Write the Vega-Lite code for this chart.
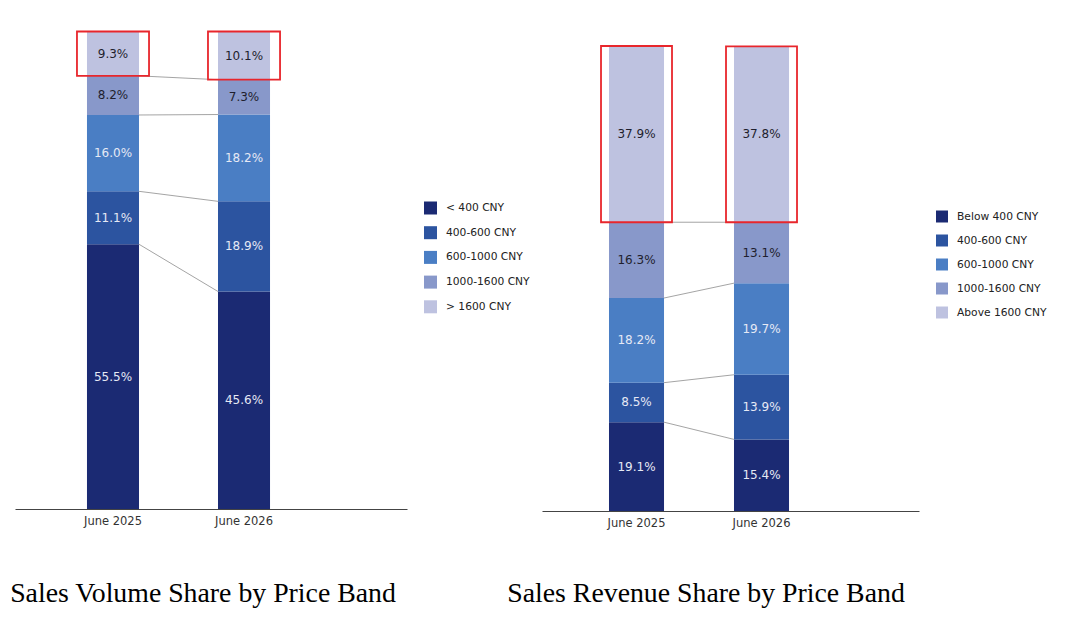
{
  "$schema": "https://vega.github.io/schema/vega-lite/v6.json",
  "padding": {"left": 9, "top": 30, "right": 0, "bottom": 0},
  "background": "white",
  "datasets": {
    "volume": [
      {"period": "June 2025", "band": "< 400 CNY", "rank": 1, "value": 0.555},
      {"period": "June 2025", "band": "400-600 CNY", "rank": 2, "value": 0.111},
      {"period": "June 2025", "band": "600-1000 CNY", "rank": 3, "value": 0.160},
      {"period": "June 2025", "band": "1000-1600 CNY", "rank": 4, "value": 0.082},
      {"period": "June 2025", "band": "> 1600 CNY", "rank": 5, "value": 0.093},
      {"period": "June 2026", "band": "< 400 CNY", "rank": 1, "value": 0.456},
      {"period": "June 2026", "band": "400-600 CNY", "rank": 2, "value": 0.189},
      {"period": "June 2026", "band": "600-1000 CNY", "rank": 3, "value": 0.182},
      {"period": "June 2026", "band": "1000-1600 CNY", "rank": 4, "value": 0.073},
      {"period": "June 2026", "band": "> 1600 CNY", "rank": 5, "value": 0.101}
    ],
    "revenue": [
      {"period": "June 2025", "band": "Below 400 CNY", "rank": 1, "value": 0.191},
      {"period": "June 2025", "band": "400-600 CNY", "rank": 2, "value": 0.085},
      {"period": "June 2025", "band": "600-1000 CNY", "rank": 3, "value": 0.182},
      {"period": "June 2025", "band": "1000-1600 CNY", "rank": 4, "value": 0.163},
      {"period": "June 2025", "band": "Above 1600 CNY", "rank": 5, "value": 0.379},
      {"period": "June 2026", "band": "Below 400 CNY", "rank": 1, "value": 0.154},
      {"period": "June 2026", "band": "400-600 CNY", "rank": 2, "value": 0.139},
      {"period": "June 2026", "band": "600-1000 CNY", "rank": 3, "value": 0.197},
      {"period": "June 2026", "band": "1000-1600 CNY", "rank": 4, "value": 0.131},
      {"period": "June 2026", "band": "Above 1600 CNY", "rank": 5, "value": 0.378}
    ]
  },
  "hconcat": [
    {
      "width": 392,
      "height": 477,
      "data": {"name": "volume"},
      "transform": [
        {"stack": "value", "groupby": ["period"], "sort": [{"field": "rank", "order": "ascending"}], "as": ["c0", "c1"]}
      ],
      "title": {"text": "Sales Volume Share by Price Band", "orient": "bottom", "anchor": "middle", "dx": -8, "offset": 53, "font": "Liberation Serif", "fontSize": 27.8, "fontWeight": "normal", "color": "#000000"},
      "layer": [
        {
          "mark": {"type": "bar", "width": {"band": 0.722}},
          "encoding": {
            "x": {"field": "period", "type": "nominal", "title": null,
                  "scale": {"paddingInner": 0.45, "paddingOuter": 0.721, "align": 0.328},
                  "axis": {"labelAngle": 0, "labelAlign": "center", "labelBaseline": "top", "ticks": false, "bandPosition": 0.5, "labelPadding": 6, "domainColor": "#444444", "domainWidth": 1.1, "labelFontSize": 11.5, "labelColor": "#333333", "labelFont": "DejaVu Sans", "grid": false}},
            "y": {"field": "c0", "type": "quantitative", "scale": {"domain": [0, 1], "nice": false}, "axis": null},
            "y2": {"field": "c1"},
            "color": {"field": "band", "type": "nominal",
                      "scale": {"domain": ["< 400 CNY", "400-600 CNY", "600-1000 CNY", "1000-1600 CNY", "> 1600 CNY"], "range": ["#1b2a73", "#2c54a0", "#4a7ec4", "#8898ca", "#bec2e0"]},
                      "legend": {"title": null, "orient": "none", "legendX": 409, "legendY": 169.5, "symbolType": "square", "symbolSize": 169, "symbolStrokeWidth": 0, "labelFontSize": 10.7, "labelFont": "DejaVu Sans", "labelColor": "#222222", "rowPadding": 11.7, "labelOffset": 9}}
          }
        },
        {
          "transform": [
            {"filter": "datum.rank < 5"},
            {"window": [{"op": "lead", "field": "c1", "as": "c1n"}, {"op": "lead", "field": "period", "as": "pn"}], "groupby": ["band"], "sort": [{"field": "period", "order": "ascending"}]},
            {"filter": "datum.period == 'June 2025'"}
          ],
          "mark": {"type": "rule", "color": "#9a9a9a", "strokeWidth": 0.9},
          "encoding": {
            "x": {"field": "period", "type": "nominal", "bandPosition": 0.861, "title": null,
                  "axis": {"labelAngle": 0, "labelAlign": "center", "labelBaseline": "top", "ticks": false, "bandPosition": 0.5, "labelPadding": 6, "domainColor": "#444444", "domainWidth": 1.1, "labelFontSize": 11.5, "labelColor": "#333333", "labelFont": "DejaVu Sans", "grid": false}},
            "x2": {"field": "pn", "bandPosition": 0.139},
            "y": {"field": "c1", "type": "quantitative", "axis": null},
            "y2": {"field": "c1n"}
          }
        },
        {
          "transform": [
            {"fold": ["c0", "c1"], "as": ["edge", "pos"]}
          ],
          "mark": {"type": "text", "font": "DejaVu Sans", "fontSize": 12, "baseline": "middle"},
          "encoding": {
            "x": {"field": "period", "type": "nominal", "title": null,
                  "axis": {"labelAngle": 0, "labelAlign": "center", "labelBaseline": "top", "ticks": false, "bandPosition": 0.5, "labelPadding": 6, "domainColor": "#444444", "domainWidth": 1.1, "labelFontSize": 11.5, "labelColor": "#333333", "labelFont": "DejaVu Sans", "grid": false}},
            "y": {"field": "pos", "type": "quantitative", "aggregate": "mean", "axis": null},
            "detail": [{"field": "band"}, {"field": "rank"}],
            "text": {"field": "value", "type": "quantitative", "aggregate": "mean", "format": ".1%"},
            "color": {"condition": {"test": "datum.rank >= 4", "value": "#1f1f2e"}, "value": "#e6e9f5"}
          }
        },
        {
          "transform": [
            {"filter": "datum.rank == 5"}
          ],
          "mark": {"type": "bar", "width": {"band": 1}, "fillOpacity": 0, "stroke": "#e8262c", "strokeWidth": 1.8},
          "encoding": {
            "x": {"field": "period", "type": "nominal", "title": null,
                  "axis": {"labelAngle": 0, "labelAlign": "center", "labelBaseline": "top", "ticks": false, "bandPosition": 0.5, "labelPadding": 6, "domainColor": "#444444", "domainWidth": 1.1, "labelFontSize": 11.5, "labelColor": "#333333", "labelFont": "DejaVu Sans", "grid": false}},
            "y": {"field": "c0", "type": "quantitative", "axis": null},
            "y2": {"field": "c1"}
          }
        }
      ]
    },
    {
      "width": 377,
      "height": 479,
      "data": {"name": "revenue"},
      "transform": [
        {"stack": "value", "groupby": ["period"], "sort": [{"field": "rank", "order": "ascending"}], "as": ["c0", "c1"]}
      ],
      "title": {"text": "Sales Revenue Share by Price Band", "orient": "bottom", "anchor": "middle", "dx": -24.5, "offset": 51, "font": "Liberation Serif", "fontSize": 27.8, "fontWeight": "normal", "color": "#000000"},
      "layer": [
        {
          "mark": {"type": "bar", "width": {"band": 0.775}},
          "encoding": {
            "x": {"field": "period", "type": "nominal", "title": null,
                  "scale": {"paddingInner": 0.432, "paddingOuter": 0.724, "align": 0.326},
                  "axis": {"labelAngle": 0, "labelAlign": "center", "labelBaseline": "top", "ticks": false, "bandPosition": 0.5, "labelPadding": 6, "domainColor": "#444444", "domainWidth": 1.1, "labelFontSize": 11.5, "labelColor": "#333333", "labelFont": "DejaVu Sans", "grid": false}},
            "y": {"field": "c0", "type": "quantitative", "scale": {"domain": [0, 1.0301], "nice": false}, "axis": null},
            "y2": {"field": "c1"},
            "color": {"field": "band", "type": "nominal",
                      "scale": {"domain": ["Below 400 CNY", "400-600 CNY", "600-1000 CNY", "1000-1600 CNY", "Above 1600 CNY"], "range": ["#1b2a73", "#2c54a0", "#4a7ec4", "#8898ca", "#bec2e0"]},
                      "legend": {"title": null, "orient": "none", "legendX": 394, "legendY": 178.5, "symbolType": "square", "symbolSize": 144, "symbolStrokeWidth": 0, "labelFontSize": 10.7, "labelFont": "DejaVu Sans", "labelColor": "#222222", "rowPadding": 12, "labelOffset": 9}}
          }
        },
        {
          "transform": [
            {"filter": "datum.rank < 5"},
            {"window": [{"op": "lead", "field": "c1", "as": "c1n"}, {"op": "lead", "field": "period", "as": "pn"}], "groupby": ["band"], "sort": [{"field": "period", "order": "ascending"}]},
            {"filter": "datum.period == 'June 2025'"}
          ],
          "mark": {"type": "rule", "color": "#9a9a9a", "strokeWidth": 0.9},
          "encoding": {
            "x": {"field": "period", "type": "nominal", "bandPosition": 0.8875, "title": null,
                  "axis": {"labelAngle": 0, "labelAlign": "center", "labelBaseline": "top", "ticks": false, "bandPosition": 0.5, "labelPadding": 6, "domainColor": "#444444", "domainWidth": 1.1, "labelFontSize": 11.5, "labelColor": "#333333", "labelFont": "DejaVu Sans", "grid": false}},
            "x2": {"field": "pn", "bandPosition": 0.1125},
            "y": {"field": "c1", "type": "quantitative", "axis": null},
            "y2": {"field": "c1n"}
          }
        },
        {
          "transform": [
            {"fold": ["c0", "c1"], "as": ["edge", "pos"]}
          ],
          "mark": {"type": "text", "font": "DejaVu Sans", "fontSize": 12, "baseline": "middle"},
          "encoding": {
            "x": {"field": "period", "type": "nominal", "title": null,
                  "axis": {"labelAngle": 0, "labelAlign": "center", "labelBaseline": "top", "ticks": false, "bandPosition": 0.5, "labelPadding": 6, "domainColor": "#444444", "domainWidth": 1.1, "labelFontSize": 11.5, "labelColor": "#333333", "labelFont": "DejaVu Sans", "grid": false}},
            "y": {"field": "pos", "type": "quantitative", "aggregate": "mean", "axis": null},
            "detail": [{"field": "band"}, {"field": "rank"}],
            "text": {"field": "value", "type": "quantitative", "aggregate": "mean", "format": ".1%"},
            "color": {"condition": {"test": "datum.rank >= 4", "value": "#1f1f2e"}, "value": "#e6e9f5"}
          }
        },
        {
          "transform": [
            {"filter": "datum.rank == 5"}
          ],
          "mark": {"type": "bar", "width": {"band": 1}, "fillOpacity": 0, "stroke": "#e8262c", "strokeWidth": 1.8},
          "encoding": {
            "x": {"field": "period", "type": "nominal", "title": null,
                  "axis": {"labelAngle": 0, "labelAlign": "center", "labelBaseline": "top", "ticks": false, "bandPosition": 0.5, "labelPadding": 6, "domainColor": "#444444", "domainWidth": 1.1, "labelFontSize": 11.5, "labelColor": "#333333", "labelFont": "DejaVu Sans", "grid": false}},
            "y": {"field": "c0", "type": "quantitative", "axis": null},
            "y2": {"field": "c1"}
          }
        }
      ]
    }
  ],
  "spacing": 135,
  "bounds": "flush",
  "resolve": {"scale": {"color": "independent", "x": "independent", "y": "independent"}, "legend": {"color": "independent"}},
  "config": {"view": {"stroke": null}}
}
